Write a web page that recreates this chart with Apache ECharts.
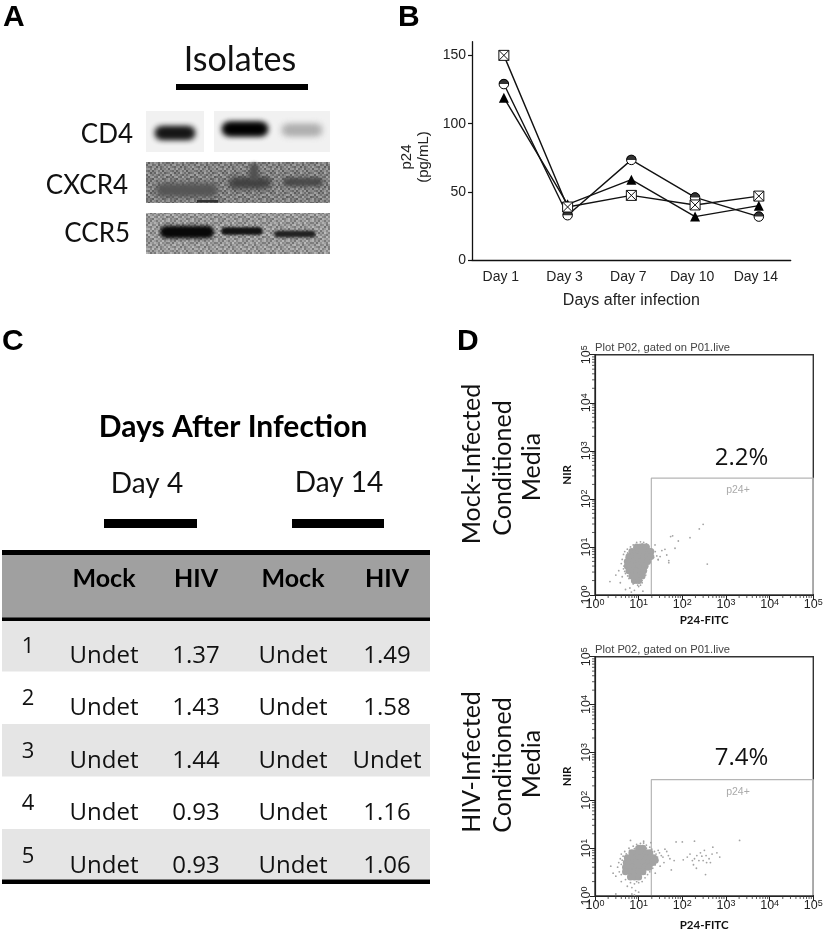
<!DOCTYPE html>
<html><head><meta charset="utf-8">
<style>html,body{margin:0;padding:0;background:#fff}#c{width:827px;height:934px}</style>
<script src="https://cdn.jsdelivr.net/npm/echarts@6/dist/echarts.min.js"></script>
</head><body><div id="c"></div>
<script>
// ---- Panel B
const days = ['Day 1','Day 3','Day 7','Day 10','Day 14'];
const p24Ticks = [0,50,100,150];
const p24Square = [150,39,47.5,40.5,47];
const p24Half = [129,33,73.5,46,32];
const p24Triangle = [119,41,59,32,40];
// ---- Panel C
const tableHeader = ['Mock','HIV','Mock','HIV'];
const rowIds = ['1','2','3','4','5'];
const day4Mock = ['Undet','Undet','Undet','Undet','Undet'];
const day4Hiv = ['1.37','1.43','1.44','0.93','0.93'];
const day14Mock = ['Undet','Undet','Undet','Undet','Undet'];
const day14Hiv = ['1.49','1.58','Undet','1.16','1.06'];
// ---- Panel D: fluorescence events [P24-FITC, NIR]
const minorTicks = [2,3,4,5,6,7,8,9,20,30,40,50,60,70,80,90,200,300,400,500,600,700,800,900,2000,3000,4000,5000,6000,7000,8000,9000,20000,30000,40000,50000,60000,70000,80000,90000];
const gateLine = [[19.5,1.05],[19.5,270],[100000,270],[100000,1.05]];
const mockCore = [[9,10],[11,10],[13,10],[15,10],[7,8],[8.5,8],[10,8],[12,8],[14,8],[17,8],[19,8],[6,6.3],[7.5,6.3],[9,6.3],[11,6.3],[13,6.3],[16,6.3],[19,6.3],[5.5,5],[6.5,5],[8,5],[10,5],[12,5],[14,5],[16,5],[5.5,4],[7,4],[8.5,4],[10,4],[12,4],[14,4],[6,3.2],[7.5,3.2],[9,3.2],[11,3.2],[13,3.2],[7,2.5],[8.5,2.5],[10.5,2.5],[12,2.5],[8,2],[10,2]];
const mockFringe = [[4.5,7],[4.2,5.5],[4,4.5],[4.8,8],[5.5,9],[6.5,10],[7.5,11],[9,12.5],[11,12.8],[13,12.5],[15,11.5],[17,10],[19,9],[21,7.5],[22,6],[19,5.5],[17,4.5],[15,3.8],[14,3],[13,2.5],[12,2],[11,1.6],[9.5,1.6],[7.5,1.7],[6,2.2],[5,2.8],[4.5,3.5],[3.5,3.2],[3,2.6],[2.2,1.9],[3.8,1.8],[5,1.3],[6.3,1.4],[8,1.25],[6.8,1.15],[10,1.5],[12.5,1.2],[4.2,2.4],[24,8],[26,6.5],[28,5.5],[23.7,11],[40,8.9],[34,8.4],[68,9.4],[44,6.8],[49,5.2],[49,4.7],[54,16.4],[60,17],[81,13.3],[150,15.6],[245,23.7],[300,29.5],[373,4.4],[31,6.3],[28,5.4],[5.2,6],[5,5],[4.6,4],[5.6,7.5],[6.3,8.8],[7.8,9.8],[8.8,11],[12,11.5],[16,9.2],[19.5,7.2],[20,6.4],[18,4.8],[16,4],[15,3.2],[14.5,2.6],[12,1.8],[10.5,1.8],[9,1.8],[7,1.9],[5.6,2.5],[4.8,3.1]];
const hivCore = [[10,10],[12.5,10],[7,8],[8.5,8],[10,8],[12.5,8],[15,8],[18,8],[5.5,6.3],[7,6.3],[8.5,6.3],[10,6.3],[12.5,6.3],[15,6.3],[18,6.3],[22,6.3],[5.2,5],[6,5],[7.5,5],[9,5],[11,5],[14,5],[17,5],[21,5],[5,4],[5.5,4],[7,4],[9,4],[11,4],[14,4],[17,4],[5,3.2],[6.5,3.2],[8,3.2],[10,3.2],[12.5,3.2],[6.5,2.5],[8,2.5],[10,2.5],[24,5.6]];
const hivFringe = [[3.8,6],[3.5,5],[3.3,4],[4,7.5],[4.8,8.5],[6,10],[7.5,11],[9,12],[11,12.5],[13,12.8],[15,11.5],[18,10.5],[20,9.5],[23,8.5],[25,7.5],[27,6.5],[26,5.5],[24,4.5],[21,3.8],[18,3.2],[16,2.8],[14,2.4],[12,2],[10,1.9],[8,1.8],[6.5,1.9],[5,2.2],[4,2.8],[3.6,3.2],[3,2.6],[2.3,4.2],[2.6,3],[4,2],[5.5,1.6],[7,1.5],[8.5,1.3],[10,1.2],[7,1.1],[8,1.05],[3,1.1],[6.5,14.5],[13,14],[19,13],[28,9],[30,8],[33,7],[36,6.5],[40,9.5],[44,8.5],[38,5],[31,4.2],[48,7],[52,6],[65,5.5],[72,13.5],[100,13.5],[56,3.5],[24,3],[105,5.7],[130,6.5],[150,7.5],[170,5.5],[190,6],[215,7],[180,4.5],[210,3.8],[240,5.5],[260,8],[280,6.8],[300,5.5],[320,9],[350,7],[360,5],[340,2.8],[410,6],[440,5],[480,7.5],[620,8],[720,6.5],[190,14],[2050,14.5],[500,10.5],[4.2,5.6],[4,4.6],[4.4,6.8],[5.2,7.6],[6.2,9],[8,9.8],[11,11],[15,10],[20,8.4],[25,6.6],[24,5.6],[20,4.2],[18.5,3.6],[14,2.9],[11,2.3],[9,2],[5.8,2.6],[4.6,3]];

const GRAY = '#a3a3a3';
const FLOW = [{x:595,top:354.7,h:240.3,gap:19,pct:'2.2%',pctY:458,tagY:490,titleY:347.5},{x:595,top:656.7,h:239.3,gap:23,pct:'7.4%',pctY:758.5,tagY:792,titleY:649.5}];

// ---- helpers for the non-plot panels
const T = (text,x,y,size,opt={}) => ({type:'text',x,y,rotation:opt.rot||0,silent:true,z:20,
  style:{text,fill:opt.color||'#111',font:`${opt.bold?'bold ':''}${size}px ${opt.family||'Lato'}`,align:opt.align||'center',verticalAlign:'middle'}});
const R = (x,y,w,h,fill) => ({type:'rect',silent:true,z:5,shape:{x,y,width:w,height:h},style:{fill}});
// a blot band: blurred ellipse painted once onto its own small bitmap
function band(cx,cy,rx,ry,fill,blur,passes=2){
  const pad=Math.ceil(blur*4), w=Math.ceil(2*rx+2*pad), h=Math.ceil(2*ry+2*pad);
  const c=document.createElement('canvas'); c.width=w; c.height=h;
  const g=c.getContext('2d'); g.filter=`blur(${blur}px)`; g.fillStyle=fill;
  for(let i=0;i<passes;i++){ g.beginPath(); g.roundRect(pad,pad,2*rx,2*ry,ry); g.fill(); }
  return {type:'image',silent:true,z:8,style:{image:c,x:cx-w/2,y:cy-h/2,width:w,height:h}};
}

// small hand-typed grey tile used as the film grain of the blots
const grain = [
 [ 30,-20, 10,-35, 25,  5,-30, 15,-10, 35,-15, 20],
 [-25, 15,-40, 20,-5, 30, 10,-25, 40,-15, 5,-30],
 [ 10,-30, 25, 35,-20,-10, 30,-35,  5, 20,-25, 15],
 [ 40,  5,-15,-30, 15, 25,-40, 20,-25,-5, 30,-10],
 [-35, 25, 30,-10, 40,-20,  5, 35,-30, 10,-5, 25],
 [ 15,-10,-25, 20,-35, 10, 25,-15, 30,-40, 20, 5],
 [-5, 35, 15,-40,  5,-30, 40, 10,-20, 25,-35,-15],
 [ 25,-35, 40, 10,-15, 20,-5,-30, 15,-25, 10, 35],
 [-20, 5,-30, 25, 35,-15,-25, 40,-10, 5, 30,-40],
 [ 35,-25, 5,-15,-40, 30, 15,-5, 25,-35,-20, 10]];
function tile(base){
  const s=2, w=grain[0].length*s, h=grain.length*s;
  const a=document.createElement('canvas'); a.width=w; a.height=h;
  const g=a.getContext('2d');
  grain.forEach((row,r)=>row.forEach((d,q)=>{const v=base+d*0.9; g.fillStyle=`rgb(${v},${v},${v})`; g.fillRect(q*s,r*s,s,s);}));
  const b=document.createElement('canvas'); b.width=w; b.height=h;
  const k=b.getContext('2d'); k.fillStyle=`rgb(${base},${base},${base})`; k.fillRect(0,0,w,h);
  k.filter='blur(0.6px)'; k.drawImage(a,0,0);
  return b;
}
const tileDark = {image:tile(128),repeat:'repeat'};
const tileMid = {image:tile(150),repeat:'repeat'};

const graphics = [];
[['A',3,18],['B',398,17.5],['C',2,342],['D',457,342]].forEach(p=>graphics.push(T(p[0],p[1],p[2],30,{bold:true,family:'Liberation Sans',align:'left',color:'#000'})));
// Panel A
graphics.push(T('Isolates',240,60,34), R(176,84,132,6,'#000'));
graphics.push(T('CD4',133,135,26,{align:'right'}),T('CXCR4',128,186,26,{align:'right'}),T('CCR5',130,234,26,{align:'right'}));
graphics.push(R(146,111,58,41,'#f1f1f1'),R(214,111,116,41,'#f1f1f1'));
graphics.push(band(175,133,19,5.5,'#151515',3),band(245,129,22,6,'#000',3),band(302,130,19,4.5,'#adadad',3.5));
graphics.push(R(146,162,184,41,tileDark),band(187,190,30,5,'#555',3),band(250,183,20,4,'#404040',3),band(254,172,3,8,'#505050',2),band(303,182,19,3,'#484848',2.5),R(197,200,21,2.5,'#333'));
graphics.push(R(146,213,184,41,tileMid),band(187,232,26,5,'#080808',2),band(242,231,20,3,'#151515',1.5),band(295,234,20,2.5,'#222',1.5));
// Panel C
graphics.push(T('Days After Infection',233,427,30,{bold:true,color:'#000'}),T('Day 4',147,484,28),T('Day 14',339,483,28));
graphics.push(R(104,519,93,9,'#000'),R(292,519,92,9,'#000'));
graphics.push(R(2,554,428,64,'#a0a0a0'),R(2,550,428,5,'#000'),R(2,617.5,428,4,'#000'));
[[621,50.5],[724,52.5],[829,50.5]].forEach(b=>graphics.push(R(2,b[0],428,b[1],'#e5e5e5')));
graphics.push(R(2,879.5,428,4.5,'#000'));
const colX=[104,196,293,387];
tableHeader.forEach((h,i)=>graphics.push(T(h,colX[i],579,25,{bold:true,color:'#000'})));
const rowText=[656,708.5,761,813,866], rowNum=[646.5,699,751.5,804,856.5];
rowIds.forEach((id,r)=>{
  graphics.push(T(id,28,rowNum[r],22,{family:'Open Sans'}));
  [day4Mock,day4Hiv,day14Mock,day14Hiv].forEach((col,i)=>graphics.push(T(col[r],colX[i],rowText[r],24,{family:'Open Sans'})));
});
// Panel D side labels
[['Mock-Infected',472,464],['Conditioned',503,468],['Media',532,467],['HIV-Infected',472,762],['Conditioned',503,765],['Media',532,764]]
 .forEach(l=>graphics.push(T(l[0],l[1],l[2],25,{rot:Math.PI/2})));
// Panel D annotations
FLOW.forEach(f=>{
  graphics.push(T('Plot P02, gated on P01.live',595,f.titleY,11.2,{family:'Liberation Sans',align:'left',color:'#444'}));
  graphics.push(T(f.pct,741.5,f.pctY,24,{family:'Open Sans'}));
  graphics.push(T('p24+',738,f.tagY,10.5,{family:'Liberation Sans',color:'#aaa'}));
});

// ---- Axes
const grids=[{left:472,top:41.7,width:318.7,height:218.6}];
const xAxes=[{gridIndex:0,type:'category',data:days,boundaryGap:true,
  axisLine:{lineStyle:{color:'#111',width:1.3}},
  axisTick:{alignWithLabel:true,length:4,lineStyle:{color:'#111',width:1.2}},
  axisLabel:{color:'#222',fontFamily:'Liberation Sans',fontSize:14,margin:10,padding:[0,6,0,0]},
  name:'Days after infection',nameLocation:'middle',nameGap:32,nameTextStyle:{color:'#222',fontFamily:'Liberation Sans',fontSize:16}}];
const yAxes=[{gridIndex:0,type:'value',min:0,max:160,
  axisLine:{show:true,onZero:false,lineStyle:{color:'#111',width:1.3}},splitLine:{show:false},
  axisTick:{show:true,length:4,customValues:p24Ticks,lineStyle:{color:'#111',width:1.2}},
  axisLabel:{color:'#222',fontFamily:'Liberation Sans',fontSize:14,margin:6,customValues:p24Ticks},
  name:'p24\n(pg/mL)',nameLocation:'middle',nameGap:40,nameRotate:90,nameTextStyle:{color:'#222',fontFamily:'Liberation Sans',fontSize:15,lineHeight:17,padding:[0,0,0,-12]}}];
const logFmt=v=>`{b|10}{s|${Math.round(Math.log10(v))}}`;
const logRich={b:{fontFamily:'Liberation Sans',fontSize:12.5,color:'#222'},s:{fontFamily:'Liberation Sans',fontSize:9,color:'#222',verticalAlign:'top',padding:[0,0,5,0]}};
FLOW.forEach(f=>{
  const g=grids.length;
  grids.push({left:f.x,top:f.top,width:218.3,height:f.h,show:true,borderColor:'#333',borderWidth:1.4,backgroundColor:'transparent'});
  xAxes.push({gridIndex:g,type:'log',logBase:10,min:1,max:100000,
    axisLine:{onZero:false,lineStyle:{color:'#222',width:1.2}},splitLine:{show:false},
    axisTick:{length:5,lineStyle:{color:'#222'}},minorTick:{show:false},
    axisLabel:{formatter:logFmt,rich:logRich,margin:3,showMinLabel:true,showMaxLabel:true,hideOverlap:false},
    name:'P24-FITC',nameLocation:'middle',nameGap:f.gap,nameTextStyle:{fontFamily:'Lato',fontWeight:'bold',fontSize:11.5,color:'#111'}});
  yAxes.push({gridIndex:g,type:'log',logBase:10,min:1,max:100000,
    axisLine:{onZero:false,lineStyle:{color:'#222',width:1.2}},splitLine:{show:false},
    axisTick:{length:5,lineStyle:{color:'#222'}},
    axisLabel:{formatter:logFmt,rich:logRich,rotate:90,margin:1,showMinLabel:true,showMaxLabel:true,hideOverlap:false},
    name:'NIR',nameLocation:'middle',nameGap:22,nameRotate:90,nameTextStyle:{fontFamily:'Lato',fontWeight:'bold',fontSize:11.5,color:'#111'}});
});

// ---- Series
const lineBase={type:'line',xAxisIndex:0,yAxisIndex:0,showSymbol:true,animation:false,lineStyle:{color:'#111',width:1.4},z:3};
const series=[
 {...lineBase,name:'Triangle',data:p24Triangle,symbol:'triangle',symbolSize:10,itemStyle:{color:'#000'},z:3},
 {...lineBase,name:'Half',data:p24Half,symbol:'circle',symbolSize:9.5,itemStyle:{color:'#fff',borderColor:'#000',borderWidth:1},z:4},
 {type:'scatter',name:'HalfTop',xAxisIndex:0,yAxisIndex:0,data:p24Half,symbol:'path://M0 5A5 5 0 0 1 10 5Z',symbolSize:[10,5],symbolOffset:[0,-2.5],itemStyle:{color:'#000'},silent:true,animation:false,z:5},
 {...lineBase,name:'Square',data:p24Square,symbol:'path://M0 0H10V10H0Z M0 0L10 10 M10 0L0 10',symbolSize:10,symbolKeepAspect:true,itemStyle:{color:'#fff',borderColor:'#111',borderWidth:1},z:6}
];
[[mockCore,mockFringe],[hivCore,hivFringe]].forEach((d,i)=>{
  const idx=i+1;
  series.push({type:'scatter',name:'core'+idx,xAxisIndex:idx,yAxisIndex:idx,data:d[0],symbolSize:7,itemStyle:{color:GRAY,opacity:1},silent:true,animation:false});
  series.push({type:'scatter',name:'fringe'+idx,xAxisIndex:idx,yAxisIndex:idx,data:d[1],symbolSize:1.8,itemStyle:{color:GRAY,opacity:1},silent:true,animation:false});
  series.push({type:'line',name:'gate'+idx,xAxisIndex:idx,yAxisIndex:idx,data:gateLine,showSymbol:false,symbol:'none',lineStyle:{color:'#b5b5b5',width:1.2},silent:true,animation:false,z:1});
  // log-spaced minor ticks on both axes, placed through the axes' own scales
  series.push({type:'custom',name:'minor'+idx,xAxisIndex:idx,yAxisIndex:idx,silent:true,animation:false,clip:false,
    data:minorTicks.map(v=>[v]),encode:{x:0,y:-1},
    renderItem:(p,api)=>{
      const v=api.value(0), a=api.coord([v,1]), b=api.coord([1,v]);
      const st={stroke:'#333',lineWidth:0.8};
      return {type:'group',children:[
        {type:'line',shape:{x1:a[0],y1:a[1],x2:a[0],y2:a[1]+3},style:st},
        {type:'line',shape:{x1:b[0],y1:b[1],x2:b[0]-3,y2:b[1]},style:st}]};
    }});
});

const chart=echarts.init(document.getElementById('c'),null,{renderer:'canvas',width:827,height:934});
chart.setOption({backgroundColor:'#fff',animation:false,tooltip:{show:false},legend:{show:false},
  grid:grids,xAxis:xAxes,yAxis:yAxes,series,graphic:{elements:graphics}});
</script></body></html>
